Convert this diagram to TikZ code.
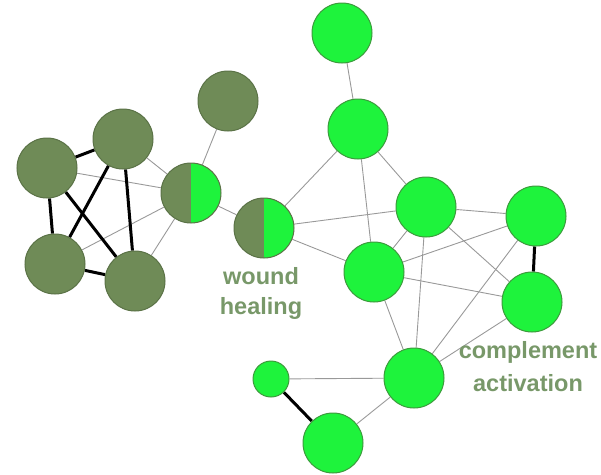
\documentclass[tikz,border=0pt]{standalone}
\usepackage{fontspec}
\setmainfont{Liberation Sans}
\usetikzlibrary{backgrounds}
\definecolor{olv}{HTML}{6F8B57}
\definecolor{olvb}{HTML}{5A7246}
\definecolor{grn}{HTML}{1EF33C}
\definecolor{grnb}{HTML}{3C9A3C}
\definecolor{lbl}{HTML}{789869}
\definecolor{edg}{HTML}{999999}
\tikzset{
  x=1pt,y=-1pt,
  nd/.style={circle,inner sep=0pt,minimum size=60pt,line width=1pt},
  on/.style={nd,fill=olv,draw=olvb},
  gn/.style={nd,fill=grn,draw=grnb},
  sm/.style={gn,minimum size=36pt},
  hf/.style={nd,fill=olv,draw=olvb,path picture={\fill[grn] (path picture bounding box.north) rectangle (path picture bounding box.south east);}},
  thin edge/.style={draw=edg,line width=0.9pt},
  thick edge/.style={draw=black,line width=3pt},
  lab/.style={text=lbl,font=\bfseries\fontsize{23.5}{27}\selectfont,anchor=base,inner sep=0pt}
}
\begin{document}
\begin{tikzpicture}
\useasboundingbox (0,0) rectangle (601,474);
\node[on] (A) at (47,168) {};
\node[on] (B) at (123,139) {};
\node[on] (C) at (55,264) {};
\node[on] (D) at (135,281) {};
\node[on] (E) at (228,101) {};
\node[hf] (F) at (191,193) {};
\node[hf] (G) at (264,228) {};
\node[gn] (H) at (342,33) {};
\node[gn] (I) at (358,129) {};
\node[gn] (J) at (426,207) {};
\node[gn] (K) at (374,272) {};
\node[gn] (L) at (536,216) {};
\node[gn] (M) at (532,302) {};
\node[gn] (N) at (414,378) {};
\node[sm] (O) at (271,379) {};
\node[gn] (P) at (333,443) {};
\node[lab] (w1) at (261,284) {wound};
\node[lab] (w2) at (261,314) {healing};
\node[lab] (c1) at (528,358) {complement};
\node[lab] (c2) at (528,391) {activation};
\begin{scope}[on background layer]
\foreach \a/\b in {B/F,A/F,C/F,D/F,E/F,F/G,G/I,G/J,G/K,H/I,I/J,I/K,J/K,J/L,J/N,J/M,K/L,K/M,K/N,L/N,M/N,N/O,N/P}
  \path[thin edge] (\a) -- (\b);
\foreach \a/\b in {A/B,A/C,B/C,A/D,B/D,C/D,L/M,O/P}
  \path[thick edge] (\a) -- (\b);
\end{scope}
\end{tikzpicture}
\end{document}
